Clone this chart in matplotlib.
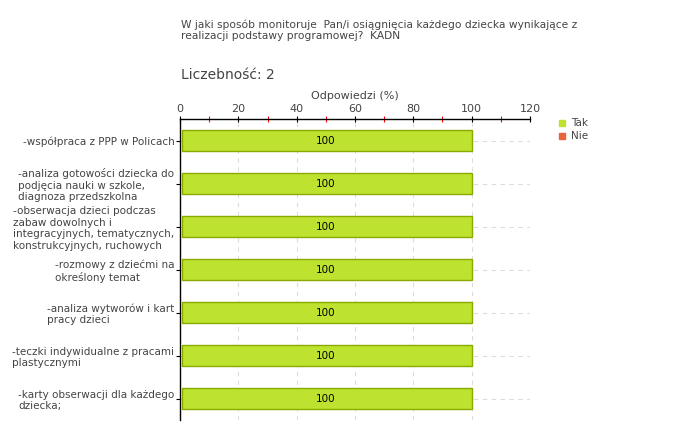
import numpy as np
import matplotlib.pyplot as plt
from matplotlib.lines import Line2D

plt.rcParams['font.family'] = ['DejaVu Sans']

# dane
kategorie = [
    '-współpraca z PPP w Policach',
    '-analiza gotowości dziecka do\npodjęcia nauki w szkole,\ndiagnoza przedszkolna',
    '-obserwacja dzieci podczas\nzabaw dowolnych i\nintegracyjnych, tematycznych,\nkonstrukcyjnych, ruchowych',
    '-rozmowy z dziećmi na\nokreślony temat',
    '-analiza wytworów i kart\npracy dzieci',
    '-teczki indywidualne z pracami\nplastycznymi',
    '-karty obserwacji dla każdego\ndziecka;',
]
tak = [100, 100, 100, 100, 100, 100, 100]
nie = [0, 0, 0, 0, 0, 0, 0]
x_ticks = [0, 20, 40, 60, 80, 100, 120]

tekst = '#444444'
zielony = '#bde22f'
pomaranczowy = '#e8643c'

fig = plt.figure(figsize=(6.8, 4.4), dpi=100)
ax = fig.add_axes([180 / 680, 1 - 420 / 440, 350 / 680, 301 / 440])

y = np.arange(len(kategorie))
start = 0.6
ax.barh(y, [v - start for v in tak], left=start, height=0.47, color=zielony,
        edgecolor='#8aaa00', linewidth=1, zorder=3)
for yi, v in zip(y, tak):
    ax.text(v / 2, yi, f'{v}', ha='center', va='center', fontsize=7.5,
            color='black', zorder=4)

ax.set_xlim(0, 120)
ax.set_ylim(len(kategorie) - 0.5, -0.5)

# oś x na górze
ax.xaxis.tick_top()
ax.xaxis.set_label_position('top')
ax.set_xticks(x_ticks)
ax.set_xticklabels([str(t) for t in x_ticks], fontsize=8, color=tekst)
ax.set_xticks([10, 30, 50, 70, 90, 110], minor=True)
ax.tick_params(axis='x', which='major', direction='inout', length=5, width=0.8,
               color='black', pad=1)
ax.tick_params(axis='x', which='minor', direction='inout', length=4, width=0.8,
               color='red')
ax.set_xlabel('Odpowiedzi (%)', fontsize=8, color=tekst, labelpad=4)

ax.set_yticks(y)
ax.set_yticklabels(kategorie, fontsize=7.5, color=tekst, ha='right',
                   multialignment='left')
ax.tick_params(axis='y', direction='out', length=3, width=0.8, color='black', pad=1)

for s in ['right', 'bottom']:
    ax.spines[s].set_visible(False)
ax.spines['top'].set_linewidth(1)
ax.spines['left'].set_linewidth(1)

# siatka
for xt in x_ticks[1:]:
    ax.axvline(xt, color='#dddddd', linestyle=(0, (4, 4)), linewidth=0.8, zorder=1)
for yi in y:
    ax.plot([0, 120], [yi, yi], color='#dddddd', linestyle=(0, (4, 4)),
            linewidth=0.8, zorder=1)

# tytuły
fig.text(181 / 680, 1 - 30 / 440,
         'W jaki sposób monitoruje  Pan/i osiągnięcia każdego dziecka wynikające z\n'
         'realizacji podstawy programowej?  KADN',
         fontsize=7.7, color=tekst, va='center', ha='left', linespacing=1.1)
fig.text(181 / 680, 1 - 75 / 440, 'Liczebność: 2', fontsize=10, color=tekst,
         va='center', ha='left')

# legenda
uchwyty = [
    Line2D([], [], marker='s', linestyle='none', markersize=5, color=zielony),
    Line2D([], [], marker='s', linestyle='none', markersize=5, color=pomaranczowy),
]
fig.legend(uchwyty, ['Tak', 'Nie'], loc='upper left', bbox_to_anchor=(553 / 680, 1 - 113 / 440),
           frameon=False, fontsize=7.5, handlelength=0.8, handletextpad=0.4,
           labelspacing=0.3, borderpad=0, labelcolor=tekst)

fig.savefig('out.png', dpi=100)
